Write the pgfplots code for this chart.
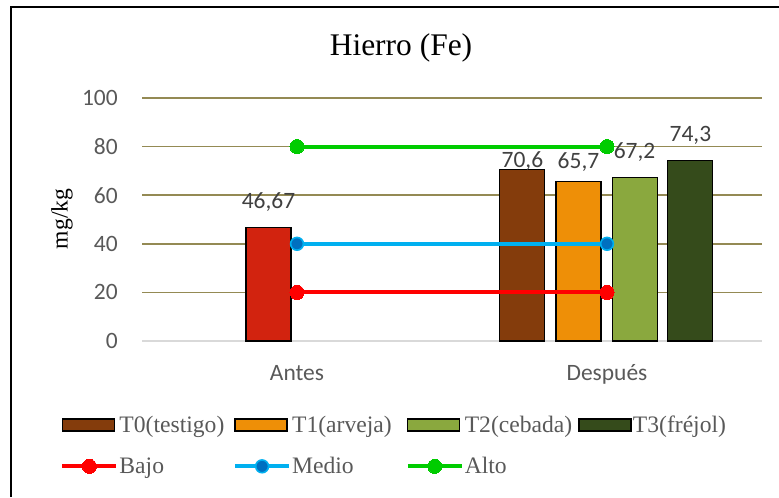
\documentclass[border=0pt]{standalone}
\usepackage{pgfplots}
\pgfplotsset{compat=1.18}
\usepackage{pgfplotstable}
\usepackage{fontspec}
\setmainfont{Liberation Serif}
\newfontfamily\calibri{Carlito}
\newfontfamily\timesf{Liberation Serif}
\definecolor{gridol}{HTML}{948A54}
\definecolor{zeroline}{HTML}{D9D9D9}
\definecolor{tickgray}{HTML}{595959}
\definecolor{labgray}{HTML}{404040}
\definecolor{cAntes}{HTML}{D2230F}
\definecolor{cT0}{HTML}{843C0C}
\definecolor{cT1}{HTML}{EE8F07}
\definecolor{cT2}{HTML}{8AA83E}
\definecolor{cT3}{HTML}{354B1B}
\definecolor{cBajo}{HTML}{FF0000}
\definecolor{cMedio}{HTML}{00B0F0}
\definecolor{cMedioM}{HTML}{0070C0}
\definecolor{cAlto}{HTML}{00CC00}
\newcommand\lb[1]{\makebox[86pt][l]{\hspace{0.8pt}#1}}
\pgfplotsset{
  barleg/.style={legend image code/.code={\draw[##1, draw=black, line width=1.1pt] (0pt,-4.5pt) rectangle (39pt,4.5pt);}},
  lineleg/.style={legend image code/.code={\draw[mark repeat=2,mark phase=2,##1] plot coordinates {(0pt,0pt) (20.25pt,0pt) (40.5pt,0pt)};}},
  mybar/.style={ybar, bar width=33.75pt, bar shift=0pt, draw=black, line width=0.8pt, barleg},
}
\pgfplotstableread{
x y label
-0.092 57.2 46,67
0.727 74.2 70,6
0.908 73.5 65,7
1.089 77.6 67,2
1.269 84.6 74,3
}\datalabels
\begin{document}
\begin{tikzpicture}
\useasboundingbox (0pt,0pt) rectangle (584.25pt,372.75pt);
\draw[line width=1.5pt] (8.25pt,0pt) -- (8.25pt,367.5pt) -- (584.25pt,367.5pt);
\node[font=\timesf\fontsize{23.6}{28}\selectfont] at (300.75pt,336.75pt) {Hierro (Fe)};
\node[rotate=90, font=\timesf\fontsize{17.7}{21}\selectfont] at (46.5pt,208.5pt) {mg/kg};
\begin{axis}[at={(106.5pt,117pt)}, anchor=south west, scale only axis,
  width=465pt, height=182.25pt,
  xmin=-0.5, xmax=1.5, ymin=0, ymax=100,
  xtick={0,1}, xticklabels={Antes,Después},
  ytick={20,40,60,80,100}, extra y ticks={0},
  extra y tick style={grid style={color=zeroline, line width=1.2pt}},
  ymajorgrids, grid style={color=gridol, line width=1.2pt},
  axis line style={draw=none}, tick style={draw=none},
  /pgf/number format/assume math mode=true,
  ticklabel style={font=\calibri\fontsize{17.6}{21}\selectfont, text=tickgray},
  yticklabel style={anchor=east, inner sep=0pt, xshift=-18pt},
  xticklabel style={anchor=base, inner sep=0pt, yshift=-29.6pt},
  legend columns=4,
  legend cell align=left,
  legend style={at={(-0.132,-0.307)}, anchor=north west, draw=none, fill=none, inner sep=0pt,
    font=\timesf\fontsize{17.7}{21}\selectfont, text=tickgray, row sep=17pt,
    nodes={inner sep=0pt},
    /tikz/every even column/.append style={column sep=0pt}},
]
\addplot[mybar, fill=cAntes, forget plot] coordinates {(-0.092,46.67)};
\addplot[mybar, fill=cT0] coordinates {(0.727,70.6)};
\addplot[mybar, fill=cT1] coordinates {(0.908,65.7)};
\addplot[mybar, fill=cT2] coordinates {(1.089,67.2)};
\addplot[mybar, fill=cT3] coordinates {(1.269,74.3)};
\addplot[lineleg, color=cBajo, line width=3pt, mark=*, mark size=5.3pt, mark options={solid, fill=cBajo, draw=cBajo, line width=0pt}] coordinates {(0,20) (1,20)};
\addplot[lineleg, color=cMedio, line width=3pt, mark=*, mark size=4.8pt, mark options={solid, fill=cMedioM, draw=cMedio, line width=1.2pt}] coordinates {(0,40) (1,40)};
\addplot[lineleg, color=cAlto, line width=3pt, mark=*, mark size=5.3pt, mark options={solid, fill=cAlto, draw=cAlto, line width=0pt}] coordinates {(0,80) (1,80)};
\addplot[forget plot, draw=none, mark=none, point meta=explicit symbolic, nodes near coords,
  nodes near coords align={center},
  nodes near coords style={anchor=center, font=\calibri\fontsize{17.6}{21}\selectfont, text=labgray}]
  table[x=x, y=y, meta=label] {\datalabels};
\legend{\lb{T0(testigo)}, \lb{T1(arveja)}, \lb{T2(cebada)}, \lb{T3(fréjol)}, \lb{Bajo}, \lb{Medio}, \lb{Alto}}
\end{axis}
\end{tikzpicture}
\end{document}
